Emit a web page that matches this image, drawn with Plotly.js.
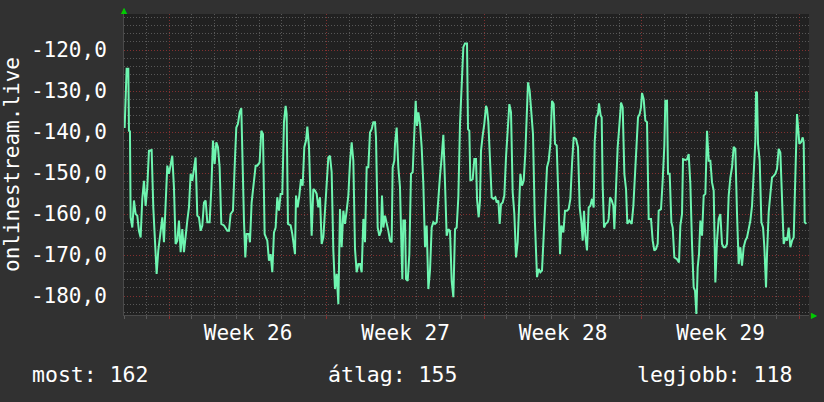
<!DOCTYPE html>
<html><head><meta charset="utf-8">
<script src="https://cdn.plot.ly/plotly-3.0.1.min.js"></script>
<style>html,body{margin:0;padding:0;background:#313131;overflow:hidden}#chart{width:824px;height:402px}</style>
</head><body><div id="chart"></div>
<script>
// time in days since the Monday that starts Week 26
const days = [
-1.985,-1.941,-1.896,-1.822,-1.793,-1.748,-1.719,-1.644,-1.570,-1.496,-1.422,-1.348,-1.274,-1.200,-1.126,-1.052,-0.978,-0.904,-0.785,-0.711,-0.637,-0.563,-0.489,-0.385,-0.311,-0.237,-0.163,-0.089,-0.015,
0.059,0.133,0.207,0.281,0.356,0.430,0.504,0.578,0.652,0.726,0.800,0.874,0.948,1.022,1.096,1.170,1.244,1.319,1.393,1.467,1.541,1.615,1.689,1.793,1.867,1.941,2.015,2.089,2.163,2.237,2.311,2.430,2.578,2.652,2.726,2.830,2.904,2.978,
3.052,3.126,3.200,3.244,3.319,3.378,3.437,3.541,3.585,3.659,3.763,3.837,3.911,4.015,4.089,4.163,4.237,4.356,4.430,4.504,4.578,4.652,4.726,4.800,4.874,4.948,5.022,5.096,5.170,5.215,5.274,5.393,5.467,5.541,
5.587,5.631,5.705,5.779,5.853,5.927,6.001,6.076,6.135,6.209,6.268,6.327,6.401,6.475,6.549,6.624,6.698,6.772,6.846,6.920,6.994,7.068,7.142,7.216,7.290,7.364,7.439,7.513,7.587,7.661,7.735,7.809,7.883,7.957,
8.031,8.105,8.179,8.253,8.327,8.402,8.476,8.550,8.624,8.698,8.772,8.846,8.920,8.994,9.068,9.142,9.187,9.261,9.335,9.409,9.453,9.513,9.587,9.661,9.735,9.809,9.883,9.927,10.001,10.031,10.105,10.179,10.253,10.327,10.357,10.401,10.476,10.520,10.594,10.668,10.742,10.816,10.890,10.950,
11.009,11.068,11.142,11.216,11.290,11.365,11.439,11.513,11.587,11.661,11.735,11.809,11.883,11.957,12.031,12.105,12.179,12.253,12.327,12.402,12.476,12.550,12.624,12.698,12.772,12.846,12.920,12.994,13.068,13.142,13.187,
13.231,13.276,13.335,13.379,13.483,13.557,13.631,13.676,13.750,13.809,13.853,13.927,14.001,14.076,14.120,14.179,14.253,14.327,14.402,14.490,14.550,14.624,14.683,14.742,14.816,14.890,14.964,15.039,15.113,15.187,15.261,15.335,15.409,15.483,15.557,15.602,15.676,15.750,15.824,15.898,15.942,
16.016,16.090,16.164,16.239,16.298,16.342,16.416,16.490,16.564,16.639,16.713,16.787,16.861,16.935,17.009,17.083,17.142,17.216,17.290,17.365,17.424,17.513,17.587,17.676,17.750,17.824,17.898,17.972,18.076,18.164,18.239,18.313,18.372,18.431,18.490,18.564,18.639,18.713,18.787,18.861,18.905,18.979,
19.053,19.098,19.172,19.216,19.261,19.320,19.394,19.483,19.527,19.587,19.661,19.735,19.779,19.853,19.927,20.001,20.076,20.150,20.224,20.298,20.357,20.446,20.550,20.624,20.698,20.772,
20.831,20.905,20.964,21.009,21.083,21.157,21.231,21.305,21.409,21.483,21.557,21.631,21.705,21.750,21.853,21.927,22.001,22.046,22.120,22.164,22.239,22.313,22.372,22.446,22.564,22.653,22.713,22.787,22.831,22.935,
23.009,23.083,23.157,23.231,23.305,23.365,23.424,23.483,23.542,23.602,23.676,23.750,23.824,23.898,23.972,24.046,24.120,24.194,24.268,24.342,24.416,24.490,24.564,24.639,24.713,24.787,24.861,24.935,
25.009,25.083,25.157,25.231,25.305,25.379,25.453,25.527,25.602,25.676,25.750,25.824,25.898,25.972,26.046,26.076,26.120,26.164,26.239,26.313,26.387,26.446,26.520,26.564,26.639,26.713,26.787,26.861,26.935,
27.009,27.083,27.157,27.231,27.305,27.379,27.453,27.527,27.602,27.676,27.750,27.794,27.853,27.898,27.957,28.001,28.076,28.150,28.194,28.239,28.313
];
const signal = [
-139.0,-129.9,-124.6,-124.6,-139.7,-139.8,-160.8,-163.3,-156.7,-160.0,-160.4,-164.1,-165.7,-156.3,-151.9,-158.0,-153.5,-144.6,-144.4,-158.4,-168.5,-174.6,-168.9,-164.9,-160.8,-166.9,-157.6,-148.2,-150.2,
-148.2,-145.8,-153.5,-167.3,-166.5,-161.6,-169.3,-163.7,-169.3,-164.9,-161.6,-158.4,-150.2,-151.9,-148.6,-146.2,-160.4,-160.8,-164.1,-162.8,-157.2,-156.7,-162.0,-162.0,-153.9,-142.1,-147.8,-142.5,-143.7,-148.6,-162.4,-162.8,-164.1,-164.1,-160.0,-159.2,-148.6,-138.9,
-138.0,-135.2,-134.2,-147.8,-161.6,-170.6,-164.9,-164.9,-166.9,-157.2,-151.9,-148.2,-148.2,-147.4,-139.7,-140.5,-164.9,-166.5,-171.4,-169.8,-174.2,-164.5,-163.3,-155.9,-159.2,-155.1,-155.1,-137.6,-133.6,-135.6,-162.4,-162.8,-164.9,-168.9,
-169.8,-155.5,-158.4,-155.5,-151.5,-153.1,-143.7,-142.1,-138.7,-143.7,-155.5,-165.3,-153.9,-154.3,-155.1,-158.4,-155.9,-167.3,-165.7,-160.0,-154.3,-146.2,-145.8,-149.8,-168.9,-178.3,-174.6,-182.0,-158.8,-168.1,-159.2,-162.4,-159.2,-155.5,
-147.4,-142.5,-147.0,-168.5,-174.2,-172.2,-172.2,-174.2,-161.2,-166.9,-148.6,-148.6,-140.1,-139.3,-137.6,-137.6,-141.3,-163.3,-165.3,-164.1,-155.5,-163.3,-160.4,-162.0,-164.1,-166.5,-166.9,-148.6,-147.0,-142.9,-138.9,-148.6,-153.5,-170.2,-175.9,-161.6,-161.6,-175.9,-176.3,-169.8,-150.2,-149.8,-138.0,-132.4,
-138.5,-135.2,-138.0,-143.7,-152.7,-168.1,-162.8,-178.3,-173.8,-163.3,-162.0,-162.4,-162.0,-155.1,-150.7,-146.2,-140.7,-152.3,-165.3,-163.7,-164.1,-176.3,-180.3,-163.7,-163.3,-155.9,-138.0,-128.7,-119.3,-118.4,-118.4,
-118.4,-139.3,-139.7,-151.9,-151.5,-146.6,-146.6,-156.3,-160.8,-156.7,-144.6,-140.9,-138.0,-133.6,-134.4,-137.6,-148.2,-155.9,-156.3,-155.9,-157.2,-156.7,-162.4,-157.6,-157.2,-155.5,-146.2,-138.9,-133.2,-135.2,-154.7,-160.0,-170.6,-166.9,-157.6,-150.2,-153.1,-151.9,-145.0,-135.6,-127.9,
-129.9,-136.0,-140.5,-160.4,-168.1,-175.4,-173.4,-174.2,-173.8,-165.3,-155.5,-148.6,-147.0,-142.9,-132.4,-133.2,-142.9,-143.3,-155.5,-169.8,-162.8,-164.5,-159.2,-159.2,-158.8,-156.3,-147.8,-141.3,-141.7,-143.7,-158.4,-162.0,-166.5,-159.2,-165.3,-168.9,-158.4,-158.0,-156.3,-158.4,-142.5,-136.4,
-135.6,-133.0,-136.0,-136.4,-153.1,-163.3,-162.4,-162.0,-161.2,-155.9,-156.7,-158.0,-163.7,-153.5,-143.7,-138.5,-132.8,-134.0,-150.2,-153.9,-162.4,-161.6,-162.4,-158.0,-150.2,-140.9,
-136.4,-135.6,-134.0,-130.5,-132.0,-137.2,-137.6,-161.2,-161.2,-166.5,-168.9,-168.5,-167.3,-159.2,-158.8,-151.9,-143.3,-132.4,-132.4,-150.2,-150.2,-162.0,-163.3,-170.6,-171.0,-171.8,-162.8,-160.0,-146.6,-146.8,
-146.7,-145.4,-152.7,-167.3,-177.9,-178.7,-184.4,-173.0,-169.8,-161.6,-165.3,-155.5,-155.1,-139.7,-147.0,-147.0,-152.3,-154.3,-176.7,-166.5,-161.2,-160.0,-167.3,-168.1,-168.1,-167.3,-155.5,-151.1,
-148.6,-143.6,-144.1,-160.0,-172.2,-168.1,-172.6,-168.1,-166.5,-165.7,-163.7,-161.6,-158.0,-148.6,-142.1,-130.2,-130.4,-142.9,-147.0,-162.0,-163.3,-168.1,-177.9,-169.8,-159.6,-155.1,-151.1,-150.7,-150.2,
-149.0,-144.1,-145.0,-158.4,-167.3,-165.7,-166.5,-163.3,-168.1,-166.5,-165.7,-156.7,-147.0,-135.6,-139.7,-142.9,-142.5,-141.3,-142.5,-162.0,-162.4
];
const weekStarts = [0, 7, 14, 21, 28];
const weekMids = [3.5, 10.5, 17.5, 24.5];
const weekLabels = ['Week 26', 'Week 27', 'Week 28', 'Week 29'];
const yTickVals = [-180, -170, -160, -150, -140, -130, -120];
const yTickText = ['-180,0', '-170,0', '-160,0', '-150,0', '-140,0', '-130,0', '-120,0'];
const yTitle = 'onlinestream.live';
const statLabels = ['most: 162', 'átlag: 155', 'legjobb: 118'];

const MONO = 'DejaVu Sans Mono, monospace';
const minorGrid = '#575757';
const majorGrid = '#823030';
const DOTS = '1px,2px';

const traces = [
  {x: days, y: signal, type: 'scatter', mode: 'lines', xaxis: 'x', yaxis: 'y',
   line: {color: '#6ef5b0', width: 2}, hoverinfo: 'skip', showlegend: false},
  {x: [], y: [], type: 'scatter', mode: 'lines', xaxis: 'x2', yaxis: 'y',
   hoverinfo: 'skip', showlegend: false}
];

const xr = [-2.013, 28.43];
const layout = {
  width: 824, height: 402,
  margin: {l: 124, r: 15, t: 14, b: 87, pad: 0},
  paper_bgcolor: '#313131', plot_bgcolor: '#212121',
  font: {family: MONO, size: 21, color: '#ffffff'},
  showlegend: false,
  xaxis: {
    range: xr, tickmode: 'array', tickvals: weekStarts, showticklabels: false,
    ticks: 'outside', ticklen: 3, tickcolor: '#8a2f2f', tickwidth: 1,
    showgrid: true, gridcolor: majorGrid, griddash: DOTS, gridwidth: 1,
    zeroline: false, showline: true, linecolor: '#4a4a4a', linewidth: 1,
    minor: {tickmode: 'linear', tick0: 0, dtick: 1, ticks: 'outside', ticklen: 3, tickcolor: '#5a5a5a',
            showgrid: true, gridcolor: minorGrid, griddash: DOTS, gridwidth: 1},
    fixedrange: true
  },
  xaxis2: {
    range: xr, overlaying: 'x', anchor: 'y', side: 'bottom',
    tickmode: 'array', tickvals: weekMids, ticktext: weekLabels,
    ticks: '', showgrid: false, zeroline: false, showline: false,
    tickfont: {family: MONO, size: 21, color: '#ffffff'}, ticklabelstandoff: 3,
    fixedrange: true
  },
  yaxis: {
    range: [-184.63, -111.22], tickmode: 'array', tickvals: yTickVals, ticktext: yTickText,
    ticks: '', ticklabelstandoff: 12,
    tickfont: {family: MONO, size: 21, color: '#ffffff'},
    showgrid: true, gridcolor: majorGrid, griddash: DOTS, gridwidth: 1,
    zeroline: false, showline: true, linecolor: '#4a4a4a', linewidth: 1,
    minor: {tickmode: 'linear', tick0: -120, dtick: 2, showgrid: true, gridcolor: minorGrid, griddash: DOTS, gridwidth: 1},
    title: {text: yTitle, font: {family: MONO, size: 21, color: '#ffffff'}, standoff: 10},
    fixedrange: true
  },
  annotations: [
    {xref: 'paper', yref: 'paper', x: 0, y: 1, xanchor: 'center', yanchor: 'bottom', yshift: -3,
     text: '▲', showarrow: false, font: {family: 'DejaVu Sans', size: 8, color: '#00cc00'}},
    {xref: 'paper', yref: 'paper', x: 1, y: 0, xanchor: 'left', yanchor: 'middle', xshift: 0,
     text: '▶', showarrow: false, font: {family: 'DejaVu Sans', size: 8, color: '#00cc00'}},
    {xref: 'paper', yref: 'paper', x: -0.1372, y: -0.1993, xanchor: 'left', yanchor: 'middle',
     text: statLabels[0], showarrow: false, font: {family: MONO, size: 21.5, color: '#ffffff'}},
    {xref: 'paper', yref: 'paper', x: 0.392, y: -0.1993, xanchor: 'center', yanchor: 'middle',
     text: statLabels[1], showarrow: false, font: {family: MONO, size: 21.5, color: '#ffffff'}},
    {xref: 'paper', yref: 'paper', x: 0.978, y: -0.1993, xanchor: 'right', yanchor: 'middle',
     text: statLabels[2], showarrow: false, font: {family: MONO, size: 21.5, color: '#ffffff'}}
  ]
};
Plotly.newPlot('chart', traces, layout, {staticPlot: true, displayModeBar: false});
</script></body></html>
